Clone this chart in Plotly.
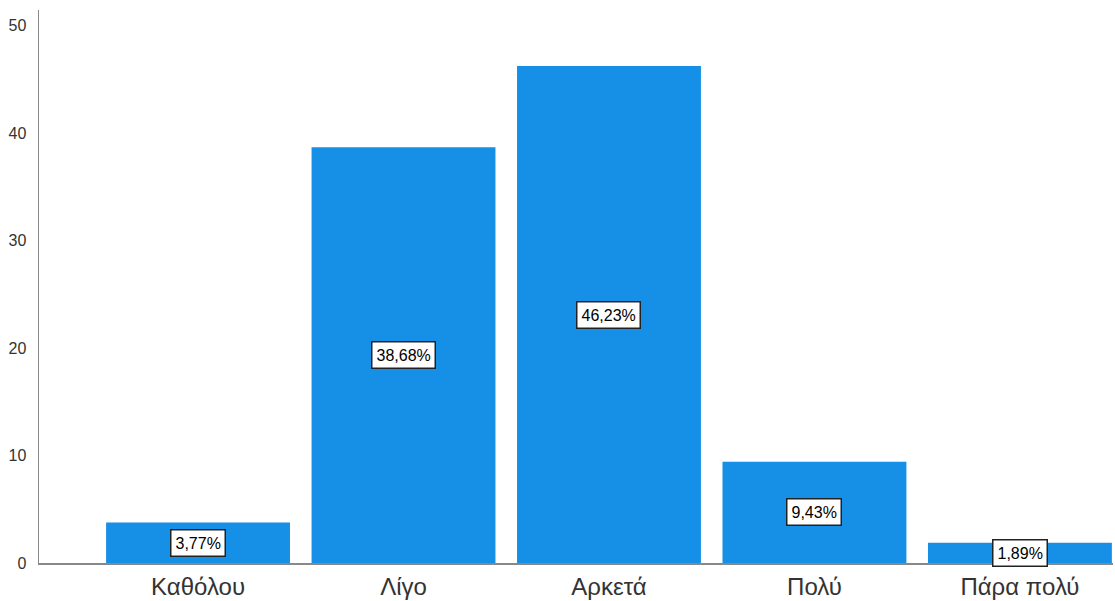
import plotly.graph_objects as go

categories = ["Καθόλου", "Λίγο", "Αρκετά", "Πολύ", "Πάρα πολύ"]
percentages = [3.77, 38.68, 46.23, 9.43, 1.89]
label_texts = ["3,77%", "38,68%", "46,23%", "9,43%", "1,89%"]
y_ticks = [0, 10, 20, 30, 40, 50]

bar_color = "#1590e6"
font_family = "Liberation Sans, Arial, sans-serif"

fig = go.Figure()
fig.add_trace(go.Bar(
    x=list(range(len(categories))),
    y=percentages,
    marker=dict(color=bar_color, line=dict(width=0)),
    hoverinfo="skip",
))

for i, (v, t) in enumerate(zip(percentages, label_texts)):
    fig.add_annotation(
        x=i, y=v / 2, text=t, showarrow=False,
        font=dict(family=font_family, size=16, color="black"),
        bgcolor="white", bordercolor="#222222", borderwidth=1.5, borderpad=4,
        xref="x", yref="y",
    )

fig.update_layout(
    width=1115, height=601,
    margin=dict(l=39, r=2, t=10, b=38, autoexpand=False),
    plot_bgcolor="white", paper_bgcolor="white",
    showlegend=False,
    bargap=0.105,
    xaxis=dict(
        tickmode="array",
        tickvals=list(range(len(categories))),
        ticktext=categories,
        range=[-0.774, 4.453],
        showline=True, linecolor="#888888", linewidth=1.5,
        showgrid=False, zeroline=False, ticks="",
        automargin=False,
        ticklabelstandoff=2,
        tickfont=dict(family=font_family, size=24, color="#333333"),
    ),
    yaxis=dict(
        tickmode="array", tickvals=y_ticks,
        range=[0, 51.45],
        showline=True, linecolor="#888888", linewidth=1.5,
        showgrid=False, zeroline=False, ticks="",
        automargin=False,
        ticklabelstandoff=8,
        tickfont=dict(family=font_family, size=16, color="#333333"),
    ),
)

fig.write_html(
    "out.html",
    config={"displayModeBar": False, "staticPlot": True},
    post_script="document.body.style.margin='0';document.body.style.overflow='hidden';",
)
